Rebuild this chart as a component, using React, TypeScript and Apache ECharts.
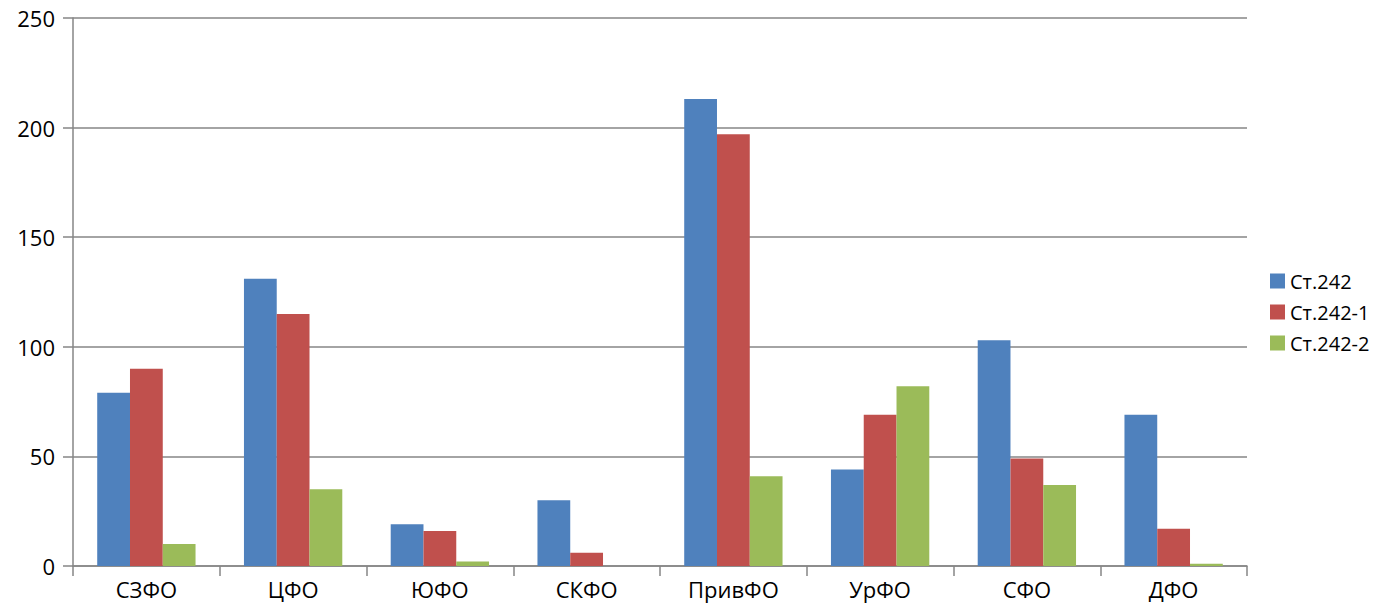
import React, { useEffect, useRef } from "react";
import * as echarts from "echarts";

const categories = ["СЗФО", "ЦФО", "ЮФО", "СКФО", "ПривФО", "УрФО", "СФО", "ДФО"];
const st242 = [79, 131, 19, 30, 213, 44, 103, 69];
const st242_1 = [90, 115, 16, 6, 197, 69, 49, 17];
const st242_2 = [10, 35, 2, 0, 41, 82, 37, 1];
const seriesNames = ["Ст.242", "Ст.242-1", "Ст.242-2"];
const colors = ["#4F81BD", "#C0504D", "#9BBB59"];

export default function App() {
  const ref = useRef<HTMLDivElement>(null);
  useEffect(() => {
    if (!ref.current) return;
    const chart = echarts.init(ref.current, undefined, { renderer: "svg" });
    const font = "'Open Sans', 'Noto Sans', sans-serif";
    const data = [st242, st242_1, st242_2];
    chart.setOption({
      animation: false,
      textStyle: { fontFamily: font },
      grid: { left: 73, right: 139, top: 18, bottom: 44, containLabel: false },
      legend: {
        orient: "vertical",
        left: 1265,
        top: 266,
        itemWidth: 15,
        itemHeight: 15,
        itemGap: 11,
        icon: "rect",
        textStyle: { fontSize: 20, color: "#000", fontFamily: font },
        data: seriesNames,
      },
      xAxis: {
        type: "category",
        data: categories,
        axisLine: { lineStyle: { color: "#868686", width: 1.5 } },
        axisTick: { show: true, length: 10, alignWithLabel: false, lineStyle: { color: "#868686", width: 1.5 } },
        axisLabel: { fontSize: 22, color: "#000", margin: 12, fontFamily: font },
      },
      yAxis: {
        type: "value",
        min: 0,
        max: 250,
        interval: 50,
        axisLine: { show: true, lineStyle: { color: "#868686", width: 1.5 } },
        axisTick: { show: true, length: 10, lineStyle: { color: "#868686", width: 1.5 } },
        axisLabel: { fontSize: 22, color: "#000", margin: 18, fontFamily: font },
        splitLine: { lineStyle: { color: "#868686", width: 1.5 } },
      },
      series: seriesNames.map((name, i) => ({
        name,
        type: "bar",
        data: data[i],
        barGap: "0%",
        barCategoryGap: "33%",
        itemStyle: { color: colors[i] },
      })),
    });
    return () => chart.dispose();
  }, []);
  return <div ref={ref} style={{ width: 1386, height: 610, position: "absolute", left: 0, top: 0 }} />;
}
